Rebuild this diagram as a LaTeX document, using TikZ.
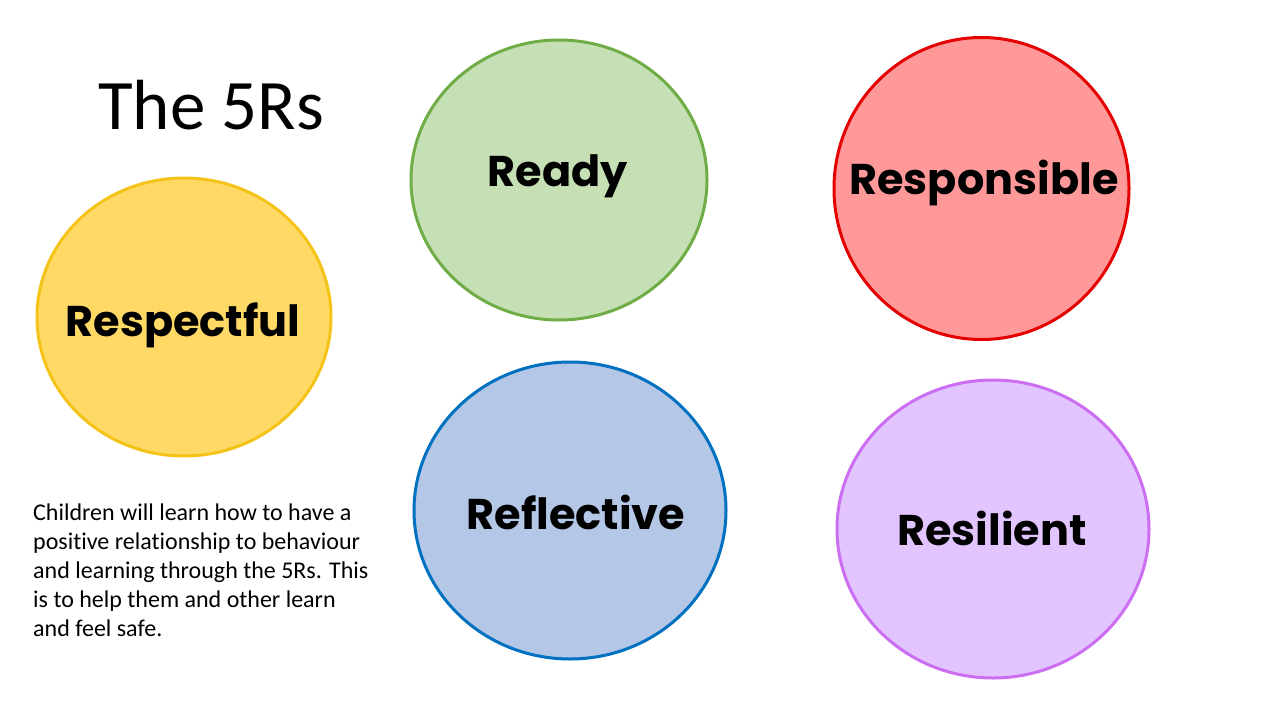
\documentclass[tikz,border=0pt]{standalone}
\usepackage{fontspec}
\setmainfont{Carlito}[Ligatures={NoCommon}]
\newfontfamily\labelfont{Poppins}[UprightFont=*-Bold]
\definecolor{yfill}{HTML}{FFD966}
\definecolor{ydraw}{HTML}{F5C318}
\definecolor{gfill}{HTML}{C5E0B4}
\definecolor{gdraw}{HTML}{70AD47}
\definecolor{rfill}{HTML}{FF9999}
\definecolor{rdraw}{HTML}{E40000}
\definecolor{bfill}{HTML}{B4C7E7}
\definecolor{bdraw}{HTML}{0070C0}
\definecolor{pfill}{HTML}{E2C5FF}
\definecolor{pdraw}{HTML}{CC6EF2}
\begin{document}
\begin{tikzpicture}[x=1pt,y=1pt,
  blob/.style={line width=3pt},
  rlabel/.style={font=\labelfont\fontsize{43}{48}\selectfont, inner sep=0pt}]
\useasboundingbox[fill=white] (0,0) rectangle (1280,-720);
\node[font=\fontsize{71}{80}\selectfont, anchor=base west, inner sep=0pt] (title) at (98,-129) {The 5Rs};
\draw[blob, draw=ydraw, fill=yfill] (184,-317) ellipse [x radius=147, y radius=139];
\draw[blob, draw=gdraw, fill=gfill] (559,-180) ellipse [x radius=148, y radius=140];
\draw[blob, draw=rdraw, fill=rfill] (981.5,-188.5) ellipse [x radius=147.5, y radius=151];
\draw[blob, draw=bdraw, fill=bfill] (570,-510.5) ellipse [x radius=156, y radius=148.5];
\draw[blob, draw=pdraw, fill=pfill] (993,-529) ellipse [x radius=156, y radius=149];
\node[rlabel] (respectful) at (183,-325) {Respectful};
\node[rlabel] (ready) at (558,-176) {Ready};
\node[rlabel] (responsible) at (984,-183) {Responsible};
\node[rlabel] (reflective) at (576,-512) {Reflective};
\node[rlabel] (resilient) at (992,-528) {Resilient};
\node[anchor=north west, inner sep=0pt, align=left, font=\fontsize{24}{29}\selectfont] (para) at (33,-504)
{Children will learn how to have a\\
positive relationship to behaviour\\
and learning through the 5Rs. This\\
is to help them and other learn\\
and feel safe.};
\end{tikzpicture}
\end{document}
